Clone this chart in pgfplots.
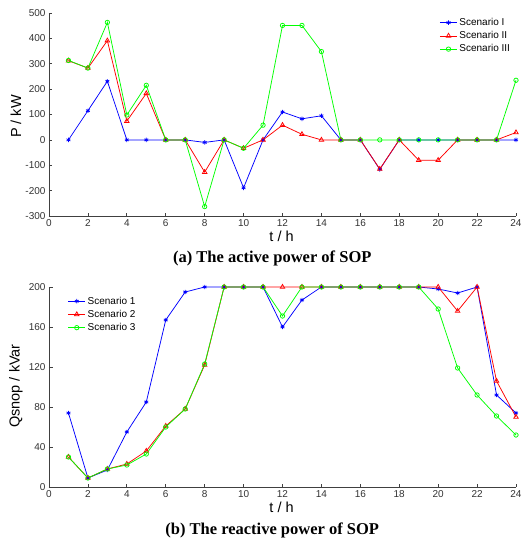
\documentclass[border=0pt]{standalone}
\usepackage{pgfplots}
\pgfplotsset{compat=1.18}
\usepackage{fontspec}
\setmainfont{Liberation Sans}
\newfontfamily\capfont{Liberation Serif}

\pgfplotsset{
  sopstyle/.style={
    scale only axis, width=467pt,
    xmin=0, xmax=24, xtick={0,2,...,24},
    axis x line*=bottom, axis y line*=left,
    tick align=inside, major tick length=3.5pt,
    tick label style={font=\fontsize{10}{11}\selectfont, text=black!80},
    /pgf/number format/assume math mode=true,
    axis line style={line width=0.7pt, black!75},
    tick style={line width=0.7pt, black!75},
    clip=false,
    legend style={draw=none, fill=none, font=\fontsize{10}{11}\selectfont,
      row sep=0.5pt, inner sep=0pt, anchor=north west},
    legend cell align=left,
    legend image code/.code={
      \draw[mark repeat=2,mark phase=2] plot coordinates {(0cm,0cm) (0.3cm,0cm) (0.6cm,0cm)};},
  },
  sA/.style={blue, line width=0.75pt, mark=asterisk, mark size=2.2pt},
  sB/.style={red, line width=0.75pt, mark=triangle, mark size=2.6pt},
  sC/.style={green, line width=0.75pt, mark=o, mark size=2.2pt},
}
\tikzset{
  axlab/.style={font=\fontsize{14.5}{15}\selectfont, anchor=center},
  captext/.style={font=\capfont\bfseries\fontsize{16.5}{17}\selectfont, anchor=center},
}

\begin{document}
\begin{tikzpicture}
\useasboundingbox (-49pt,-326pt) rectangle (474pt,216pt);
\begin{axis}[sopstyle, height=203pt, at={(0,0)}, anchor=south west,
  ymin=-300, ymax=500, ytick={-300,-200,...,500},
  legend style={at={(rel axis cs:0.836,0.985)}},
]
\addplot[sA] coordinates {
 (1,0) (2,115) (3,231) (4,0) (5,0) (6,0) (7,0) (8,-10) (9,0) (10,-189) (11,0) (12,110)
 (13,83) (14,95) (15,0) (16,0) (17,-116) (18,0) (19,0) (20,0) (21,0) (22,0) (23,0) (24,0)};
\addlegendentry{Scenario I}
\addplot[sB] coordinates {
 (1,312) (2,283) (3,391) (4,74) (5,183) (6,0) (7,0) (8,-127) (9,0) (10,-33) (11,0) (12,58)
 (13,22) (14,0) (15,0) (16,0) (17,-115) (18,0) (19,-80) (20,-80) (21,0) (22,0) (23,0) (24,29)};
\addlegendentry{Scenario II}
\addplot[sC] coordinates {
 (1,313) (2,283) (3,463) (4,98) (5,215) (6,0) (7,0) (8,-263) (9,0) (10,-33) (11,58) (12,451)
 (13,451) (14,348) (15,0) (16,0) (17,0) (18,0) (19,0) (20,0) (21,0) (22,0) (23,0) (24,235)};
\addlegendentry{Scenario III}
\node[axlab] at ([yshift=-20pt]rel axis cs:0.498,0) {t / h};
\node[axlab, rotate=90] at ([xshift=-33pt]rel axis cs:0,0.49) {P / kW};
\node[captext] at (rel axis cs:0.478,-0.207) {(a) The active power of SOP};
\end{axis}
\begin{axis}[sopstyle, height=200pt, at={(0,-271pt)}, anchor=south west,
  ymin=0, ymax=200, ytick={0,40,...,200},
  legend style={at={(rel axis cs:0.04,0.962)}},
]
\addplot[sA] coordinates {
 (1,74) (2,9) (3,17) (4,55) (5,85) (6,167) (7,195) (8,200) (9,200) (10,200) (11,200) (12,160)
 (13,187) (14,200) (15,200) (16,200) (17,200) (18,200) (19,200) (20,198) (21,194) (22,200) (23,92) (24,74)};
\addlegendentry{Scenario 1}
\addplot[sB] coordinates {
 (1,30) (2,9) (3,18) (4,23) (5,36) (6,61) (7,78) (8,122) (9,200) (10,200) (11,200) (12,200)
 (13,200) (14,200) (15,200) (16,200) (17,200) (18,200) (19,200) (20,200) (21,176) (22,200) (23,106) (24,70)};
\addlegendentry{Scenario 2}
\addplot[sC] coordinates {
 (1,30) (2,9) (3,18) (4,22) (5,33) (6,60) (7,78) (8,123) (9,200) (10,200) (11,200) (12,171)
 (13,200) (14,200) (15,200) (16,200) (17,200) (18,200) (19,200) (20,178) (21,119) (22,92) (23,71) (24,52)};
\addlegendentry{Scenario 3}
\node[axlab] at ([yshift=-20pt]rel axis cs:0.498,0) {t / h};
\node[axlab, rotate=90] at ([xshift=-33pt]rel axis cs:0,0.505) {Qsnop / kVar};
\node[captext] at (rel axis cs:0.478,-0.215) {(b) The reactive power of SOP};
\end{axis}
\end{tikzpicture}
\end{document}
